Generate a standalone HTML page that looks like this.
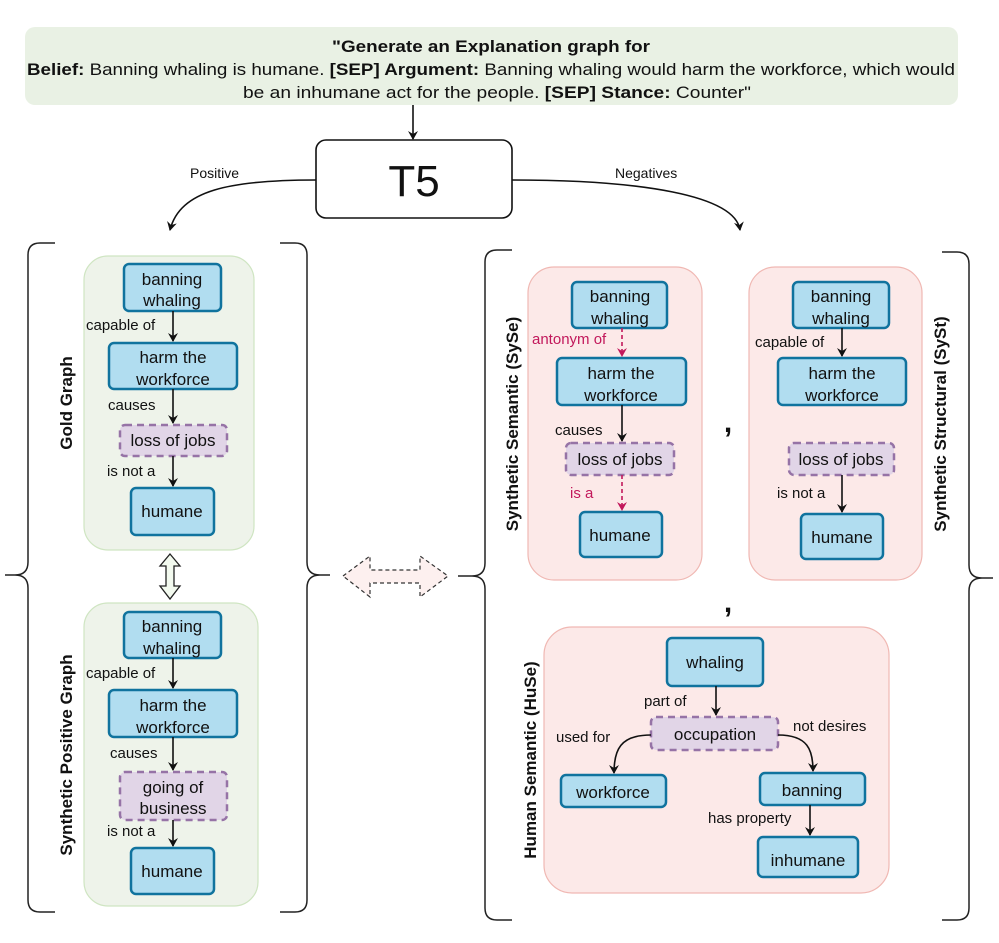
<!DOCTYPE html>
<html><head><meta charset="utf-8"><style>
html,body{margin:0;padding:0;background:#fff;width:999px;height:943px;overflow:hidden}
svg{display:block}
text{font-family:"Liberation Sans",sans-serif;fill:#111}
.n{fill:#b1ddf0;stroke:#10739e;stroke-width:2.5}
.d{fill:#e1d5e7;stroke:#9673a6;stroke-width:2.5;stroke-dasharray:7 5}
.nt{font-size:17px;text-anchor:middle}
.lb{font-size:15px}
.e{stroke:#111;stroke-width:1.6;fill:none}
.br{stroke:#222;stroke-width:1.5;fill:none}
.vt{font-size:17px;font-weight:bold;text-anchor:middle}
</style></head><body>
<svg width="999" height="943" viewBox="0 0 999 943" xmlns="http://www.w3.org/2000/svg">
<defs>
<marker id="a" markerWidth="10" markerHeight="10" refX="8" refY="5" orient="auto" markerUnits="userSpaceOnUse"><path d="M0,0 L9,5 L0,10 L3,5 Z" fill="#111"/></marker>
<marker id="r" markerWidth="10" markerHeight="10" refX="8" refY="5" orient="auto" markerUnits="userSpaceOnUse"><path d="M0,0 L9,5 L0,10 L3,5 Z" fill="#c2185b"/></marker>
</defs>
<rect x="25" y="27" width="933" height="78" rx="10" fill="#e9f1e4"/>
<text x="491" y="52" font-size="17" font-weight="bold" text-anchor="middle" textLength="318" lengthAdjust="spacingAndGlyphs">"Generate an Explanation graph for</text>
<text x="27" y="75" font-size="17" textLength="928" lengthAdjust="spacingAndGlyphs"><tspan font-weight="bold">Belief:</tspan> Banning whaling is humane. <tspan font-weight="bold">[SEP] Argument:</tspan> Banning whaling would harm the workforce, which would</text>
<text x="243" y="98" font-size="17" textLength="508" lengthAdjust="spacingAndGlyphs">be an inhumane act for the people. <tspan font-weight="bold">[SEP] Stance:</tspan> Counter"</text>
<line x1="413" y1="105" x2="413" y2="139" class="e" marker-end="url(#a)"/>
<rect x="316" y="140" width="196" height="78" rx="10" fill="#fff" stroke="#111" stroke-width="1.6"/>
<text x="414" y="196" font-size="44" text-anchor="middle">T5</text>
<text x="190" y="178" font-size="14">Positive</text>
<text x="615" y="178" font-size="14">Negatives</text>
<path d="M316,180 C230,180 180,190 170,230" class="e" marker-end="url(#a)"/>
<path d="M512,180 C640,180 735,195 740,230" class="e" marker-end="url(#a)"/>

<path d="M55,243 H40 Q28,243 28,255 V562 Q28,575 15,575 H5 M15,575 Q28,575 28,588 V900 Q28,912 40,912 H55" class="br"/>
<path d="M280,243 H295 Q307,243 307,255 V562 Q307,575 320,575 H330 M320,575 Q307,575 307,588 V900 Q307,912 295,912 H280" class="br"/>

<rect x="84" y="256" width="170" height="294" rx="24" fill="#eef3ea" stroke="#cfe5c2" stroke-width="1.2"/>
<text class="vt" transform="translate(72,403) rotate(-90)">Gold Graph</text>
<rect class="n" x="124" y="264" width="97" height="47" rx="5"/>
<text class="nt" x="172" y="285">banning</text><text class="nt" x="172" y="306">whaling</text>
<line x1="173" y1="311" x2="173" y2="341" class="e" marker-end="url(#a)"/>
<text class="lb" x="86" y="330">capable of</text>
<rect class="n" x="109" y="343" width="128" height="46" rx="5"/>
<text class="nt" x="173" y="363">harm the</text><text class="nt" x="173" y="385">workforce</text>
<line x1="173" y1="389" x2="173" y2="423" class="e" marker-end="url(#a)"/>
<text class="lb" x="108" y="410">causes</text>
<rect class="d" x="120" y="425" width="107" height="31" rx="5"/>
<text class="nt" x="173" y="446">loss of jobs</text>
<line x1="173" y1="456" x2="173" y2="486" class="e" marker-end="url(#a)"/>
<text class="lb" x="107" y="476">is not a</text>
<rect class="n" x="131" y="488" width="83" height="47" rx="5"/>
<text class="nt" x="172" y="517">humane</text>

<path d="M170,554 L180,566 L174,566 L174,586 L180,586 L170,599 L160,586 L166,586 L166,566 L160,566 Z" fill="#f3faef" stroke="#222" stroke-width="1.3"/>

<rect x="84" y="603" width="174" height="303" rx="24" fill="#eef3ea" stroke="#cfe5c2" stroke-width="1.2"/>
<text class="vt" transform="translate(72,755) rotate(-90)">Synthetic Positive Graph</text>
<rect class="n" x="124" y="612" width="97" height="46" rx="5"/>
<text class="nt" x="172" y="632">banning</text><text class="nt" x="172" y="654">whaling</text>
<line x1="173" y1="658" x2="173" y2="688" class="e" marker-end="url(#a)"/>
<text class="lb" x="86" y="678">capable of</text>
<rect class="n" x="109" y="690" width="128" height="47" rx="5"/>
<text class="nt" x="173" y="711">harm the</text><text class="nt" x="173" y="733">workforce</text>
<line x1="173" y1="737" x2="173" y2="770" class="e" marker-end="url(#a)"/>
<text class="lb" x="110" y="758">causes</text>
<rect class="d" x="120" y="772" width="107" height="48" rx="5"/>
<text class="nt" x="173" y="793">going of</text><text class="nt" x="173" y="814">business</text>
<line x1="173" y1="820" x2="173" y2="846" class="e" marker-end="url(#a)"/>
<text class="lb" x="107" y="836">is not a</text>
<rect class="n" x="131" y="848" width="83" height="46" rx="5"/>
<text class="nt" x="172" y="877">humane</text>

<path d="M343,576 L370,556 L370,570 L420,570 L420,556 L448,576 L420,597 L420,583 L370,583 L370,597 Z" fill="#fdf0ef" stroke="#333" stroke-width="1.2" stroke-dasharray="4 3"/>

<path d="M512,250 H497 Q485,250 485,262 V563 Q485,576 472,576 H458 M472,576 Q485,576 485,589 V908 Q485,920 497,920 H512" class="br"/>
<path d="M942,252 H957 Q969,252 969,264 V565 Q969,578 982,578 H993 M982,578 Q969,578 969,591 V908 Q969,920 957,920 H942" class="br"/>

<rect x="528" y="267" width="174" height="313" rx="26" fill="#fce9e8" stroke="#f0b8b3" stroke-width="1.2"/>
<text class="vt" transform="translate(518,424) rotate(-90)">Synthetic Semantic (SySe)</text>
<rect class="n" x="572" y="282" width="95" height="46" rx="5"/>
<text class="nt" x="620" y="302">banning</text><text class="nt" x="620" y="324">whaling</text>
<line x1="622" y1="328" x2="622" y2="356" stroke="#c2185b" stroke-width="1.6" stroke-dasharray="4 3" marker-end="url(#r)"/>
<text class="lb" x="532" y="344" style="fill:#c2185b">antonym of</text>
<rect class="n" x="557" y="358" width="129" height="47" rx="5"/>
<text class="nt" x="621" y="379">harm the</text><text class="nt" x="621" y="401">workforce</text>
<line x1="622" y1="405" x2="622" y2="441" class="e" marker-end="url(#a)"/>
<text class="lb" x="555" y="435">causes</text>
<rect class="d" x="566" y="443" width="108" height="32" rx="5"/>
<text class="nt" x="620" y="465">loss of jobs</text>
<line x1="622" y1="475" x2="622" y2="510" stroke="#c2185b" stroke-width="1.6" stroke-dasharray="4 3" marker-end="url(#r)"/>
<text class="lb" x="570" y="498" style="fill:#c2185b">is a</text>
<rect class="n" x="580" y="512" width="82" height="45" rx="5"/>
<text class="nt" x="620" y="541">humane</text>

<text x="728" y="432" font-size="30" font-weight="bold" text-anchor="middle">,</text>

<rect x="749" y="267" width="173" height="313" rx="26" fill="#fce9e8" stroke="#f0b8b3" stroke-width="1.2"/>
<text class="vt" transform="translate(946,424) rotate(-90)">Synthetic Structural (SySt)</text>
<rect class="n" x="793" y="282" width="96" height="46" rx="5"/>
<text class="nt" x="841" y="302">banning</text><text class="nt" x="841" y="324">whaling</text>
<line x1="842" y1="328" x2="842" y2="356" class="e" marker-end="url(#a)"/>
<text class="lb" x="755" y="347">capable of</text>
<rect class="n" x="778" y="358" width="128" height="47" rx="5"/>
<text class="nt" x="842" y="379">harm the</text><text class="nt" x="842" y="401">workforce</text>
<rect class="d" x="789" y="443" width="105" height="32" rx="5"/>
<text class="nt" x="841" y="465">loss of jobs</text>
<line x1="842" y1="475" x2="842" y2="512" class="e" marker-end="url(#a)"/>
<text class="lb" x="777" y="498">is not a</text>
<rect class="n" x="801" y="514" width="82" height="45" rx="5"/>
<text class="nt" x="842" y="543">humane</text>

<text x="728" y="612" font-size="30" font-weight="bold" text-anchor="middle">,</text>

<rect x="544" y="627" width="345" height="266" rx="28" fill="#fce9e8" stroke="#f0b8b3" stroke-width="1.2"/>
<text class="vt" transform="translate(536,760) rotate(-90)">Human Semantic (HuSe)</text>
<rect class="n" x="667" y="638" width="96" height="48" rx="5"/>
<text class="nt" x="715" y="668">whaling</text>
<line x1="716" y1="686" x2="716" y2="715" class="e" marker-end="url(#a)"/>
<text class="lb" x="644" y="706">part of</text>
<rect class="d" x="651" y="717" width="127" height="33" rx="5"/>
<text class="nt" x="715" y="740">occupation</text>
<path d="M651,735 C620,735 614,750 614,773" class="e" marker-end="url(#a)"/>
<text class="lb" x="556" y="742">used for</text>
<path d="M778,735 C808,735 813,750 813,771" class="e" marker-end="url(#a)"/>
<text class="lb" x="793" y="731">not desires</text>
<rect class="n" x="561" y="775" width="105" height="32" rx="5"/>
<text class="nt" x="613" y="798">workforce</text>
<rect class="n" x="760" y="773" width="105" height="32" rx="5"/>
<text class="nt" x="812" y="796">banning</text>
<line x1="810" y1="805" x2="810" y2="835" class="e" marker-end="url(#a)"/>
<text class="lb" x="708" y="823">has property</text>
<rect class="n" x="758" y="837" width="100" height="40" rx="5"/>
<text class="nt" x="808" y="866">inhumane</text>
</svg>
</body></html>
